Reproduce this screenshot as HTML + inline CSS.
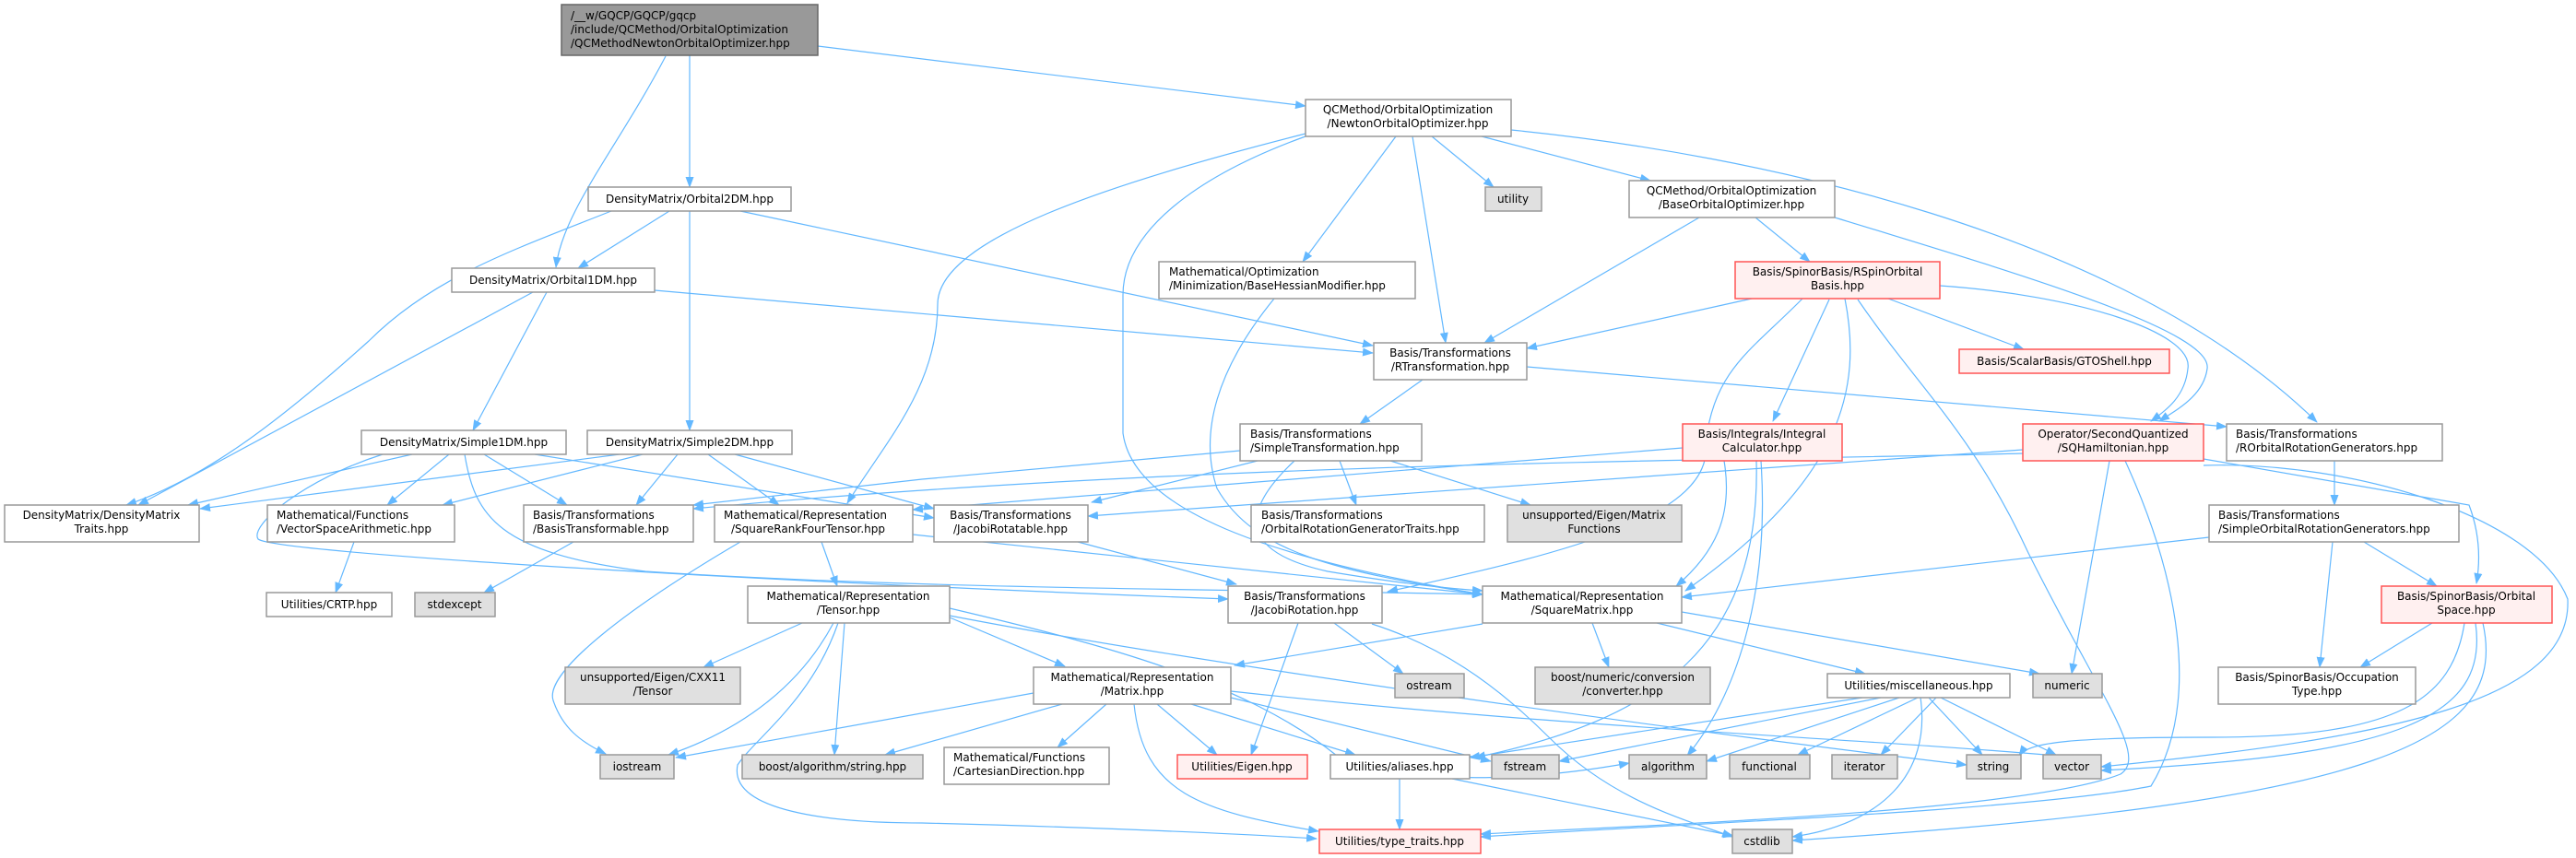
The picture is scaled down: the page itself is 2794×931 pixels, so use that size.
<!DOCTYPE html>
<html><head><meta charset="utf-8"><style>
html,body{margin:0;padding:0;background:#fff;}
svg{display:block;}
text{font-family:"DejaVu Sans","Liberation Sans",sans-serif;font-size:12px;fill:#000;}
.n{fill:#fff;stroke:#999;stroke-width:1.5;}
.g{fill:#e0e0e0;stroke:#999;stroke-width:1.5;}
.r{fill:#fff0f0;stroke:#f55;stroke-width:1.5;}
.root{fill:#999;stroke:#666;stroke-width:1.5;}
.e{fill:none;stroke:#63b8ff;stroke-width:1.2;marker-end:url(#a);}
</style></head><body>
<svg width="2794" height="931" viewBox="0 0 2794 931" xmlns="http://www.w3.org/2000/svg">
<defs><marker id="a" markerWidth="12" markerHeight="9" refX="11" refY="4.5" orient="auto" markerUnits="userSpaceOnUse"><path d="M0,0 L12,4.5 L0,9 z" fill="#63b8ff"/></marker></defs>
<g>
<!-- root -->
<path class="e" d="M748,60 L748,203"/>
<path class="e" d="M722,61 C670,160 610,230 603,290"/>
<path class="e" d="M887,50 L1416,115"/>
<!-- Orbital2DM -->
<path class="e" d="M726,229 L627,291"/>
<path class="e" d="M663,229 C560,270 470,300 400,370 C300,460 220,520 137,548"/>
<path class="e" d="M748,229 L748,467"/>
<path class="e" d="M803,229 L1489,375"/>
<!-- Orbital1DM -->
<path class="e" d="M578,317 L150,548"/>
<path class="e" d="M593,317 L513,467"/>
<path class="e" d="M710,315 L1489,383"/>
<!-- Simple1DM -->
<path class="e" d="M447,493 L204,548"/>
<path class="e" d="M487,493 L420,548"/>
<path class="e" d="M525,493 L615,548"/>
<path class="e" d="M504,493 C515,560 540,600 700,620 C1000,640 1400,640 1608,645"/>
<path class="e" d="M415,493 C330,520 270,570 280,585 C300,600 800,630 1332,650"/>
<path class="e" d="M580,493 L1013,562"/>
<!-- Simple2DM -->
<path class="e" d="M672,493 L217,552"/>
<path class="e" d="M697,493 L480,548"/>
<path class="e" d="M735,493 L690,548"/>
<path class="e" d="M768,493 L845,548"/>
<path class="e" d="M797,493 L1013,552"/>
<!-- SRFT -->
<path class="e" d="M803,588 C680,660 590,730 600,760 C610,790 630,805 657,818"/>
<path class="e" d="M891,588 L908,636"/>
<path class="e" d="M990,580 L1608,645"/>
<path class="e" d="M622,588 L525,643"/>
<path class="e" d="M384,588 L364,643"/>
<!-- Tensor -->
<path class="e" d="M870,676 L763,724"/>
<path class="e" d="M904,676 C870,740 810,790 725,819"/>
<path class="e" d="M916,676 L905,819"/>
<path class="e" d="M909,676 C880,760 820,800 800,830 C790,880 900,893 1000,893 C1200,898 1350,905 1428,910"/>
<path class="e" d="M1030,670 L1155,723"/>
<path class="e" d="M1030,660 C1200,700 1350,740 1450,820 C1550,860 1700,840 1767,828"/>
<path class="e" d="M1030,668 C1300,720 1800,790 2133,830"/>
<!-- Matrix -->
<path class="e" d="M1121,752 L733,822"/>
<path class="e" d="M1152,764 L960,819"/>
<path class="e" d="M1200,764 L1147,811"/>
<path class="e" d="M1255,764 L1320,819"/>
<path class="e" d="M1292,764 L1470,819"/>
<path class="e" d="M1230,764 C1240,860 1300,880 1430,902"/>
<path class="e" d="M1335,757 L1617,826"/>
<path class="e" d="M1335,750 C1700,790 2000,800 2230,820"/>
<!-- JacobiRotatable -->
<path class="e" d="M1169,588 L1341,634"/>
<!-- JacobiRotation -->
<path class="e" d="M1408,676 L1357,819"/>
<path class="e" d="M1447,676 L1522,731"/>
<path class="e" d="M1488,677 C1560,700 1620,740 1680,800 C1750,870 1830,890 1879,908"/>
<!-- SquareMatrix -->
<path class="e" d="M1608,677 L1339,722"/>
<path class="e" d="M1727,676 L1745,724"/>
<path class="e" d="M1797,676 L2023,731"/>
<path class="e" d="M1824,664 L2212,731"/>
<!-- SimpleTransformation -->
<path class="e" d="M1345,489 L1000,520 L752,548"/>
<path class="e" d="M1364,500 L1184,545"/>
<path class="e" d="M1404,500 C1340,560 1350,600 1440,620 C1500,630 1560,638 1608,641"/>
<path class="e" d="M1453,500 L1471,548"/>
<path class="e" d="M1508,500 L1660,548"/>
<!-- IntegralCalculator -->
<path class="e" d="M1825,486 L990,553"/>
<path class="e" d="M1870,500 C1880,560 1860,600 1818,636"/>
<path class="e" d="M1910,500 C1920,650 1880,760 1830,820"/>
<path class="e" d="M1905,500 C1910,700 1800,780 1600,822"/>
<!-- SQHamiltonian -->
<path class="e" d="M2194,488 L1180,560"/>
<path class="e" d="M2194,492 C1900,500 1300,500 752,552"/>
<path class="e" d="M2288,500 L2247,731"/>
<path class="e" d="M2305,500 C2360,620 2390,760 2333,853 C2200,880 1800,895 1606,908"/>
<path class="e" d="M2390,498 L2678,548 C2690,580 2690,610 2686,633"/>
<path class="e" d="M2390,505 C2550,500 2750,560 2785,650 C2790,760 2600,800 2279,832"/>
<!-- ROR / SORG -->
<path class="e" d="M2532,500 L2532,548"/>
<path class="e" d="M2396,583 L1824,648"/>
<path class="e" d="M2530,588 L2516,724"/>
<path class="e" d="M2564,588 L2643,636"/>
<!-- OrbitalSpace -->
<path class="e" d="M2638,676 L2560,724"/>
<path class="e" d="M2673,676 C2660,760 2600,800 2400,800 C2250,800 2200,805 2190,820"/>
<path class="e" d="M2685,676 C2700,780 2600,820 2279,836"/>
<path class="e" d="M2693,676 C2720,800 2600,870 1944,912"/>
<!-- misc -->
<path class="e" d="M2020,757 L1594,822"/>
<path class="e" d="M2040,757 L1691,826"/>
<path class="e" d="M2060,757 L1851,826"/>
<path class="e" d="M2080,757 L1950,819"/>
<path class="e" d="M2100,757 L2040,819"/>
<path class="e" d="M2083,757 C2095,840 2040,895 1944,908"/>
<path class="e" d="M2092,757 L2150,819"/>
<path class="e" d="M2105,757 L2230,819"/>
<!-- aliases -->
<path class="e" d="M1518,845 L1518,900"/>
<path class="e" d="M1575,845 L1880,907"/>
<!-- RSpinOrbitalBasis -->
<path class="e" d="M1900,324 L1656,378"/>
<path class="e" d="M2048,324 L2195,379"/>
<path class="e" d="M2104,310 C2250,320 2380,360 2373,400 C2370,430 2350,445 2333,457"/>
<path class="e" d="M1984,325 L1923,457"/>
<path class="e" d="M1955,324 C1900,380 1860,400 1850,480 C1860,560 1700,600 1505,642"/>
<path class="e" d="M2001,324 C2020,420 2000,520 1828,641"/>
<path class="e" d="M2015,325 C2080,420 2140,470 2200,600 C2280,760 2330,820 2300,840 C2200,880 1800,895 1606,905"/>
<!-- BaseOrbitalOptimizer -->
<path class="e" d="M1843,236 L1610,372"/>
<path class="e" d="M1904,236 L1963,284"/>
<path class="e" d="M1990,236 C2200,300 2400,360 2394,400 C2390,430 2360,445 2342,457"/>
<!-- Newton -->
<path class="e" d="M1553,148 L1620,203"/>
<path class="e" d="M1607,148 L1790,196"/>
<path class="e" d="M1532,148 L1568,372"/>
<path class="e" d="M1514,148 L1413,284"/>
<path class="e" d="M1639,141 C1900,167 2300,250 2513,458"/>
<path class="e" d="M1416,145 C1200,200 1017,260 1017,330 C1017,420 960,480 919,546"/>
<path class="e" d="M1416,148 C1300,190 1218,250 1218,320 L1218,470 C1230,560 1400,610 1608,645"/>
<!-- BaseHessianModifier -->
<path class="e" d="M1382,324 C1320,400 1300,470 1320,530 C1360,600 1450,620 1608,645"/>
<!-- RTransformation -->
<path class="e" d="M1543,412 L1475,460"/>
<path class="e" d="M1656,398 L2415,463"/>
</g>
<g>
<rect class="root" x="609" y="5" width="278" height="55"/>
<text x="619" y="21">/__w/GQCP/GQCP/gqcp</text><text x="619" y="36">/include/QCMethod/OrbitalOptimization</text><text x="619" y="51">/QCMethodNewtonOrbitalOptimizer.hpp</text>

<rect class="n" x="638" y="203" width="220" height="26"/><text x="748" y="220" text-anchor="middle">DensityMatrix/Orbital2DM.hpp</text>
<rect class="n" x="490" y="291" width="220" height="26"/><text x="600" y="308" text-anchor="middle">DensityMatrix/Orbital1DM.hpp</text>
<rect class="n" x="392" y="467" width="222" height="26"/><text x="503" y="484" text-anchor="middle">DensityMatrix/Simple1DM.hpp</text>
<rect class="n" x="637" y="467" width="222" height="26"/><text x="748" y="484" text-anchor="middle">DensityMatrix/Simple2DM.hpp</text>

<rect class="n" x="5" y="548" width="211" height="40"/><text x="110" y="563" text-anchor="middle">DensityMatrix/DensityMatrix</text><text x="110" y="578" text-anchor="middle">Traits.hpp</text>
<rect class="n" x="290" y="548" width="203" height="40"/><text x="300" y="563">Mathematical/Functions</text><text x="300" y="578">/VectorSpaceArithmetic.hpp</text>
<rect class="n" x="568" y="548" width="184" height="40"/><text x="578" y="563">Basis/Transformations</text><text x="578" y="578">/BasisTransformable.hpp</text>
<rect class="n" x="775" y="548" width="215" height="40"/><text x="785" y="563">Mathematical/Representation</text><text x="793" y="578">/SquareRankFourTensor.hpp</text>
<rect class="n" x="289" y="643" width="136" height="26"/><text x="357" y="660" text-anchor="middle">Utilities/CRTP.hpp</text>
<rect class="g" x="450" y="643" width="87" height="26"/><text x="493" y="660" text-anchor="middle">stdexcept</text>
<rect class="n" x="811" y="636" width="219" height="40"/><text x="920" y="651" text-anchor="middle">Mathematical/Representation</text><text x="920" y="666" text-anchor="middle">/Tensor.hpp</text>
<rect class="g" x="613" y="724" width="190" height="40"/><text x="708" y="739" text-anchor="middle">unsupported/Eigen/CXX11</text><text x="708" y="754" text-anchor="middle">/Tensor</text>
<rect class="g" x="651" y="819" width="80" height="26"/><text x="691" y="836" text-anchor="middle">iostream</text>
<rect class="g" x="805" y="819" width="196" height="26"/><text x="903" y="836" text-anchor="middle">boost/algorithm/string.hpp</text>

<rect class="n" x="1416" y="108" width="223" height="40"/><text x="1527" y="123" text-anchor="middle">QCMethod/OrbitalOptimization</text><text x="1527" y="138" text-anchor="middle">/NewtonOrbitalOptimizer.hpp</text>
<rect class="g" x="1611" y="203" width="61" height="26"/><text x="1641" y="220" text-anchor="middle">utility</text>
<rect class="n" x="1767" y="196" width="223" height="40"/><text x="1878" y="211" text-anchor="middle">QCMethod/OrbitalOptimization</text><text x="1878" y="226" text-anchor="middle">/BaseOrbitalOptimizer.hpp</text>
<rect class="n" x="1257" y="284" width="278" height="40"/><text x="1268" y="299">Mathematical/Optimization</text><text x="1268" y="314">/Minimization/BaseHessianModifier.hpp</text>
<rect class="n" x="1490" y="372" width="166" height="40"/><text x="1573" y="387" text-anchor="middle">Basis/Transformations</text><text x="1573" y="402" text-anchor="middle">/RTransformation.hpp</text>
<rect class="r" x="1882" y="284" width="222" height="40"/><text x="1993" y="299" text-anchor="middle">Basis/SpinorBasis/RSpinOrbital</text><text x="1993" y="314" text-anchor="middle">Basis.hpp</text>
<rect class="r" x="2125" y="379" width="228" height="26"/><text x="2239" y="396" text-anchor="middle">Basis/ScalarBasis/GTOShell.hpp</text>

<rect class="n" x="1345" y="460" width="197" height="40"/><text x="1356" y="475">Basis/Transformations</text><text x="1356" y="490">/SimpleTransformation.hpp</text>
<rect class="r" x="1825" y="460" width="173" height="40"/><text x="1911" y="475" text-anchor="middle">Basis/Integrals/Integral</text><text x="1911" y="490" text-anchor="middle">Calculator.hpp</text>
<rect class="r" x="2194" y="460" width="196" height="40"/><text x="2292" y="475" text-anchor="middle">Operator/SecondQuantized</text><text x="2292" y="490" text-anchor="middle">/SQHamiltonian.hpp</text>
<rect class="n" x="2415" y="460" width="234" height="40"/><text x="2425" y="475">Basis/Transformations</text><text x="2425" y="490">/ROrbitalRotationGenerators.hpp</text>

<rect class="n" x="1013" y="548" width="167" height="40"/><text x="1096" y="563" text-anchor="middle">Basis/Transformations</text><text x="1096" y="578" text-anchor="middle">/JacobiRotatable.hpp</text>
<rect class="n" x="1357" y="548" width="253" height="40"/><text x="1368" y="563">Basis/Transformations</text><text x="1368" y="578">/OrbitalRotationGeneratorTraits.hpp</text>
<rect class="g" x="1635" y="548" width="189" height="40"/><text x="1729" y="563" text-anchor="middle">unsupported/Eigen/Matrix</text><text x="1729" y="578" text-anchor="middle">Functions</text>
<rect class="n" x="2396" y="548" width="271" height="40"/><text x="2406" y="563">Basis/Transformations</text><text x="2406" y="578">/SimpleOrbitalRotationGenerators.hpp</text>

<rect class="n" x="1332" y="636" width="167" height="40"/><text x="1415" y="651" text-anchor="middle">Basis/Transformations</text><text x="1415" y="666" text-anchor="middle">/JacobiRotation.hpp</text>
<rect class="n" x="1608" y="636" width="216" height="40"/><text x="1716" y="651" text-anchor="middle">Mathematical/Representation</text><text x="1716" y="666" text-anchor="middle">/SquareMatrix.hpp</text>
<rect class="r" x="2583" y="636" width="185" height="40"/><text x="2675" y="651" text-anchor="middle">Basis/SpinorBasis/Orbital</text><text x="2675" y="666" text-anchor="middle">Space.hpp</text>

<rect class="n" x="1121" y="724" width="214" height="40"/><text x="1228" y="739" text-anchor="middle">Mathematical/Representation</text><text x="1228" y="754" text-anchor="middle">/Matrix.hpp</text>
<rect class="g" x="1513" y="731" width="75" height="26"/><text x="1550" y="748" text-anchor="middle">ostream</text>
<rect class="g" x="1665" y="724" width="190" height="40"/><text x="1760" y="739" text-anchor="middle">boost/numeric/conversion</text><text x="1760" y="754" text-anchor="middle">/converter.hpp</text>
<rect class="n" x="1982" y="731" width="198" height="26"/><text x="2081" y="748" text-anchor="middle">Utilities/miscellaneous.hpp</text>
<rect class="g" x="2205" y="731" width="75" height="26"/><text x="2242" y="748" text-anchor="middle">numeric</text>
<rect class="n" x="2406" y="724" width="214" height="40"/><text x="2513" y="739" text-anchor="middle">Basis/SpinorBasis/Occupation</text><text x="2513" y="754" text-anchor="middle">Type.hpp</text>

<rect class="n" x="1024" y="811" width="179" height="40"/><text x="1034" y="826">Mathematical/Functions</text><text x="1034" y="841">/CartesianDirection.hpp</text>
<rect class="r" x="1277" y="819" width="141" height="26"/><text x="1347" y="836" text-anchor="middle">Utilities/Eigen.hpp</text>
<rect class="n" x="1443" y="819" width="151" height="26"/><text x="1518" y="836" text-anchor="middle">Utilities/aliases.hpp</text>
<rect class="g" x="1618" y="819" width="73" height="26"/><text x="1654" y="836" text-anchor="middle">fstream</text>
<rect class="g" x="1767" y="819" width="84" height="26"/><text x="1809" y="836" text-anchor="middle">algorithm</text>
<rect class="g" x="1876" y="819" width="87" height="26"/><text x="1919" y="836" text-anchor="middle">functional</text>
<rect class="g" x="1987" y="819" width="71" height="26"/><text x="2022" y="836" text-anchor="middle">iterator</text>
<rect class="g" x="2133" y="819" width="59" height="26"/><text x="2162" y="836" text-anchor="middle">string</text>
<rect class="g" x="2216" y="819" width="63" height="26"/><text x="2247" y="836" text-anchor="middle">vector</text>

<rect class="r" x="1431" y="900" width="175" height="26"/><text x="1518" y="917" text-anchor="middle">Utilities/type_traits.hpp</text>
<rect class="g" x="1879" y="900" width="65" height="26"/><text x="1911" y="917" text-anchor="middle">cstdlib</text>
</g>
</svg>
</body></html>
